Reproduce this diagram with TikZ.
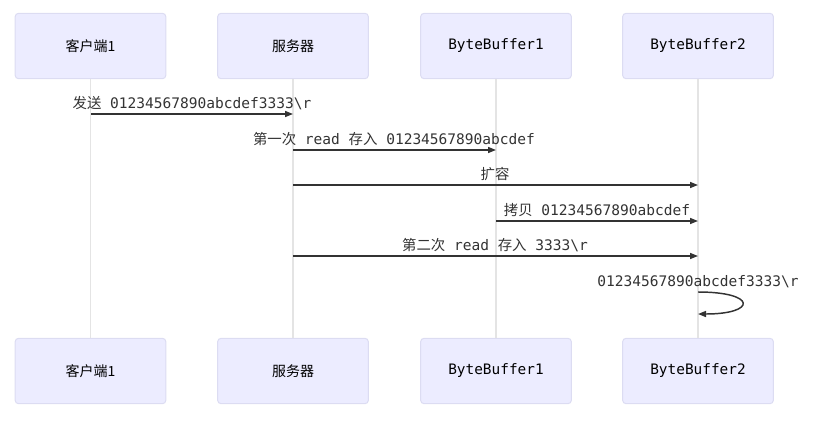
\documentclass[tikz,border=0pt]{standalone}
\usepackage{fontspec}
\setmainfont{Noto Sans CJK SC}
\setmonofont{DejaVu Sans Mono}
\newfontfamily\cjk{Noto Sans CJK SC}
\newcommand{\mn}[1]{{\fontsize{10.9}{12}\ttfamily #1}}
\usetikzlibrary{arrows.meta}
\begin{document}
\begin{tikzpicture}[x=0.75pt,y=-0.75pt,
  actor/.style={draw=actorline,fill=actorfill,rounded corners=2.5pt,line width=0.75pt,
    minimum width=113pt,minimum height=49pt,inner sep=0pt,font=\fontsize{10.5}{12}\selectfont},
  life/.style={draw=lifeline,line width=1.1pt},
  msg/.style={draw=msgline,line width=1.1pt,-{Stealth[length=6pt,width=4.5pt,inset=0pt]}},
  lbl/.style={anchor=south,inner sep=0pt,text=msgline,font=\fontsize{10.8}{12}\selectfont}]
\definecolor{actorfill}{HTML}{ECECFF}
\definecolor{actorline}{HTML}{DCDCF2}
\definecolor{lifeline}{HTML}{E4E4E4}
\definecolor{msgline}{HTML}{333333}
\useasboundingbox (0,0) rectangle (821,422);
% top actors
\node[actor] (t1) at (90.5,46) {客户端1};
\node[actor] (t2) at (293,46) {服务器};
\node[actor] (t3) at (496,46) {\fontsize{10.8}{12}\ttfamily ByteBuffer1};
\node[actor] (t4) at (698,46) {\fontsize{10.8}{12}\ttfamily ByteBuffer2};
% bottom actors
\node[actor] (b1) at (90.5,371) {客户端1};
\node[actor] (b2) at (293,371) {服务器};
\node[actor] (b3) at (496,371) {\fontsize{10.8}{12}\ttfamily ByteBuffer1};
\node[actor] (b4) at (698,371) {\fontsize{10.8}{12}\ttfamily ByteBuffer2};
% lifelines
\draw[life] (t1) -- (b1);
\draw[life] (t2) -- (b2);
\draw[life] (t3) -- (b3);
\draw[life] (t4) -- (b4);
% message anchor points
\coordinate (m1s) at (91,114);  \coordinate (m1e) at (293,114);
\coordinate (m2s) at (293,150); \coordinate (m2e) at (496,150);
\coordinate (m3s) at (293,185); \coordinate (m3e) at (698,185);
\coordinate (m4s) at (496,221); \coordinate (m4e) at (698,221);
\coordinate (m5s) at (293,256); \coordinate (m5e) at (698,256);
\coordinate (m6s) at (698,292); \coordinate (m6e) at (698,314);
% messages
\draw[msg] (m1s) -- (m1e);
\node[lbl] (l1) at (192,110) {发送\mn{\ 01234567890abcdef3333\textbackslash r}};
\draw[msg] (m2s) -- (m2e);
\node[lbl] (l2) at (394,146) {第一次\mn{\ read\ }存入\mn{\ 01234567890abcdef}};
\draw[msg] (m3s) -- (m3e);
\node[lbl] (l3) at (495,181) {扩容};
\draw[msg] (m4s) -- (m4e);
\node[lbl] (l4) at (597,217) {拷贝\mn{\ 01234567890abcdef}};
\draw[msg] (m5s) -- (m5e);
\node[lbl] (l5) at (495,252) {第二次\mn{\ read\ }存入\mn{\ 3333\textbackslash r}};
\draw[msg] (m6s) .. controls (757,292) and (757,314) .. (m6e);
\node[lbl] (l6) at (698,288) {\mn{01234567890abcdef3333\textbackslash r}};
\end{tikzpicture}
\end{document}
